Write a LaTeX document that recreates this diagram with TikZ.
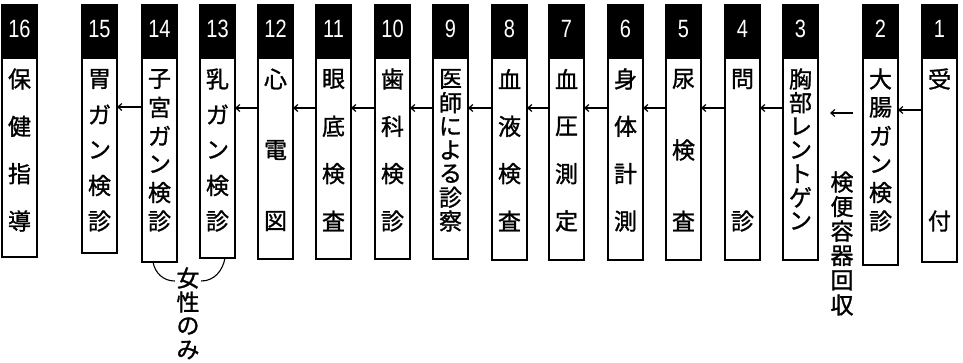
\documentclass[tikz,border=0pt]{standalone}
\usepackage{fontspec}
\usetikzlibrary{arrows.meta,calc}
\newfontfamily\cjk[FakeBold=1.2]{Noto Sans CJK JP}
\newfontfamily\numf[FakeStretch=0.8]{Liberation Sans}
\tikzset{
  body/.style={draw, line width=1.3pt, minimum width=35pt, anchor=north west, inner sep=0pt, outer sep=0pt},
  head/.style={fill=black, draw=black, line width=1.3pt, minimum width=35pt, minimum height=53pt, anchor=south west, inner sep=0pt, outer sep=0pt},
  num/.style={text=white, font=\numf\fontsize{25}{25}\selectfont, inner sep=0pt},
  ch/.style={font=\cjk\fontsize{23}{23}\selectfont, inner sep=0pt},
  arr/.style={line width=1.2pt, -{Straight Barb[length=4pt,width=7pt]}},
  bracel/.style={line width=1.1pt},
}
% #1 number, #2 left x, #3 bottom y, #4 characters, #5 count
\newcommand\procbox[5]{%
  \node[body, minimum height={#3pt-58pt}] (s#1) at (#2,58) {};
  \node[head] (h#1) at (s#1.north west) {};
  \node[num] (n#1) at (#2+17.5,29) {#1};
  \foreach \c [count=\i] in {#4} {
    \node[ch] (c#1-\i) at (#2+17.5, {79+(\i-1)*142/(#5-1)}) {\c};
  }
}
\begin{document}
\begin{tikzpicture}[x=1pt,y=-1pt]
\useasboundingbox (0,0) rectangle (963,362);
\procbox{16}{2}{257}{保,健,指,導}{4}
\procbox{15}{82}{253}{胃,ガ,ン,検,診}{5}
\procbox{14}{142}{262}{子,宮,ガ,ン,検,診}{6}
\procbox{13}{200}{258}{乳,ガ,ン,検,診}{5}
\procbox{12}{258}{259}{心,電,図}{3}
\procbox{11}{316}{259}{眼,底,検,査}{4}
\procbox{10}{375}{259}{歯,科,検,診}{4}
\procbox{9}{433}{259}{医,師,に,よ,る,診,察}{7}
\procbox{8}{492}{260}{血,液,検,査}{4}
\procbox{7}{549}{260}{血,圧,測,定}{4}
\procbox{6}{608}{260}{身,体,計,測}{4}
\procbox{5}{666}{260}{尿,検,査}{3}
\procbox{4}{725}{260}{問,診}{2}
\procbox{3}{783}{260}{胸,部,レ,ン,ト,ゲ,ン}{7}
\procbox{2}{863}{265}{大,腸,ガ,ン,検,診}{6}
\procbox{1}{922}{262}{受,付}{2}

% arrows
\draw[arr] ([yshift=-52pt]s1.north west) -- ([yshift=-52pt]s2.north east);
\coordinate (a23s) at (853,113);
\coordinate (a23e) at (830,113);
\draw[arr] (a23s) -- (a23e);
\foreach \a/\b in {3/4,4/5,5/6,6/7,7/8,8/9,9/10,10/11,11/12,12/13} {
  \draw[arr] ([yshift=-50pt]s\a.north west) -- ([yshift=-50pt]s\b.north east);
}
\draw[arr] ([yshift=-49pt]s14.north west) -- ([yshift=-49pt]s15.north east);

% stool container note
\foreach \c [count=\i] in {検,便,容,器,回,収} {
  \node[ch] (k\i) at (842, {182+(\i-1)*24.6}) {\c};
}

% women only
\foreach \c [count=\i] in {女,性,の,み} {
  \node[ch, inner sep=1.5pt] (w\i) at (188, {278+(\i-1)*24}) {\c};
}
\draw[bracel] ([xshift=11pt]s14.south west) to[out=-80,in=180] ([yshift=-3pt]w1.west);
\draw[bracel] ([xshift=-10pt]s13.south east) to[out=-100,in=0] ([yshift=-3pt]w1.east);
\end{tikzpicture}
\end{document}
